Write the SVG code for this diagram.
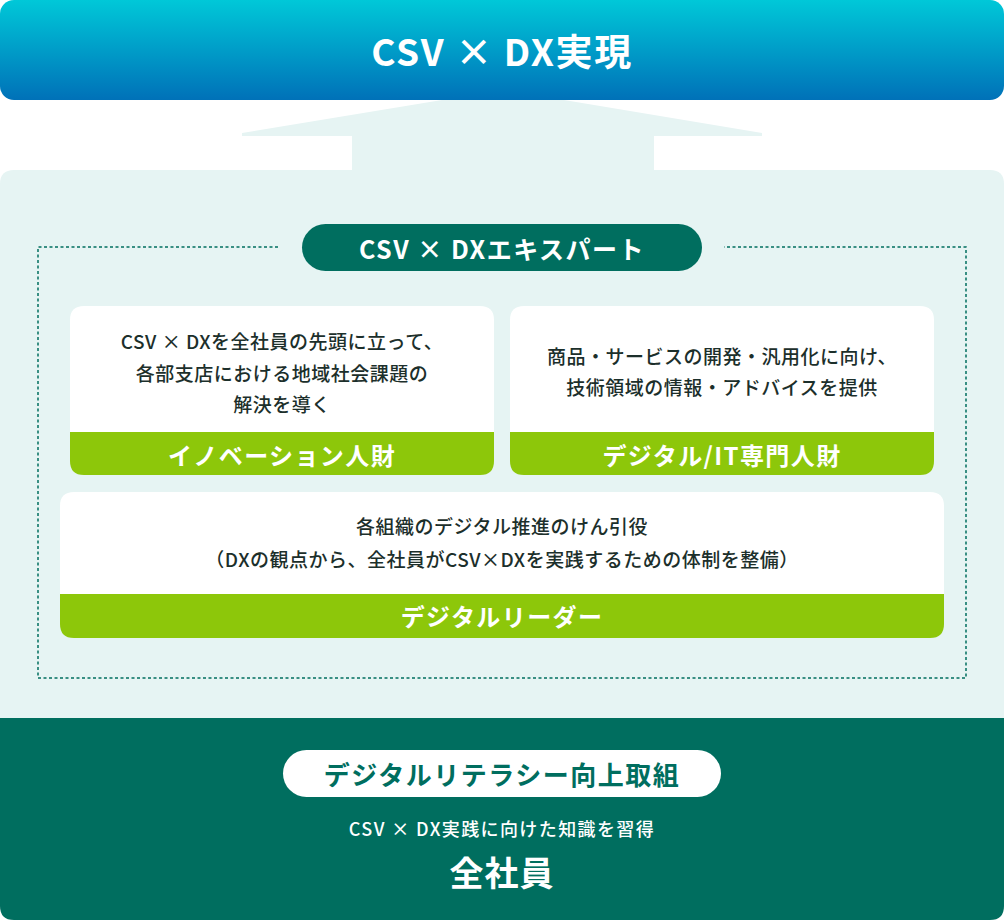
<svg xmlns="http://www.w3.org/2000/svg" width="1004" height="920" viewBox="0 0 1004 920">
<defs>
<linearGradient id="topGrad" x1="0" y1="0" x2="0" y2="1">
<stop offset="0" stop-color="#00c8d8"/>
<stop offset="1" stop-color="#0071b8"/>
</linearGradient>
<style>
text{font-family:"Noto Sans CJK JP","Noto Sans",sans-serif;text-anchor:middle;dominant-baseline:central}
.title{font-size:37px;font-weight:700;fill:#fff;letter-spacing:1.6px}
.pill{font-size:25px;font-weight:700;fill:#fff;letter-spacing:1.5px}
.body{font-size:19px;font-weight:500;fill:#1c2f2b;letter-spacing:0.5px}
.band{font-size:24px;font-weight:700;fill:#fff;letter-spacing:1.4px}
.card{fill:#fff}
.bandr{fill:#8dc70a}
</style>
</defs>

<g id="goal">
<rect x="0" y="0" width="1004" height="100" rx="14" fill="url(#topGrad)"/>
<text class="title" x="502" y="50">CSV × DX実現</text>
</g>

<g id="connectors">
<polygon points="442,100 564,100 762,133 762,136 654,136 654,171 352,171 352,136 242,136 242,133" fill="#e6f4f3"/>
</g>

<g id="panel">
<path d="M0,184 Q0,170 14,170 L990,170 Q1004,170 1004,184 L1004,720 L0,720 Z" fill="#e6f4f3"/>
<path d="M278,247 L38,247 L38,678 L966,678 L966,247 L724,247" fill="none" stroke="#006e5f" stroke-width="1.5" stroke-dasharray="3,2.5"/>
</g>

<g id="expert">
<rect x="302" y="224" width="400" height="47" rx="23.5" fill="#006e5f"/>
<text class="pill" x="502" y="247.5">CSV × DXエキスパート</text>
</g>

<g id="innovation">
<path d="M84,306 L480,306 Q494,306 494,320 L494,432 L70,432 L70,320 Q70,306 84,306 Z" class="card"/>
<path d="M70,432 L494,432 L494,461 Q494,475 480,475 L84,475 Q70,475 70,461 Z" class="bandr"/>
<text class="body" x="282" y="340">CSV × DXを全社員の先頭に立って、</text>
<text class="body" x="282" y="372">各部支店における地域社会課題の</text>
<text class="body" x="282" y="403">解決を導く</text>
<text class="band" x="282" y="454">イノベーション人財</text>
</g>

<g id="digital-it">
<path d="M524,306 L920,306 Q934,306 934,320 L934,432 L510,432 L510,320 Q510,306 524,306 Z" class="card"/>
<path d="M510,432 L934,432 L934,461 Q934,475 920,475 L524,475 Q510,475 510,461 Z" class="bandr"/>
<text class="body" x="722" y="355">商品・サービスの開発・汎用化に向け、</text>
<text class="body" x="722" y="386">技術領域の情報・アドバイスを提供</text>
<text class="band" x="722" y="454">デジタル/IT専門人財</text>
</g>

<g id="leader">
<path d="M74,492 L930,492 Q944,492 944,506 L944,594 L60,594 L60,506 Q60,492 74,492 Z" class="card"/>
<path d="M60,594 L944,594 L944,624 Q944,638 930,638 L74,638 Q60,638 60,624 Z" class="bandr"/>
<text class="body" x="502" y="525">各組織のデジタル推進のけん引役</text>
<text class="body" x="502" y="558">（DXの観点から、全社員がCSV×DXを実践するための体制を整備）</text>
<text class="band" x="502" y="615">デジタルリーダー</text>
</g>

<g id="all-staff">
<path d="M0,718 L1004,718 L1004,906 Q1004,920 990,920 L14,920 Q0,920 0,906 Z" fill="#006e5f"/>
<rect x="283" y="750" width="438" height="47" rx="23.5" fill="#fff"/>
<text x="502" y="773.5" style="font-size:26px;font-weight:700;fill:#006e5f;letter-spacing:1.5px">デジタルリテラシー向上取組</text>
<text x="502" y="828" style="font-size:18px;font-weight:500;fill:#fff;letter-spacing:1.4px">CSV × DX実践に向けた知識を習得</text>
<text x="502" y="871" style="font-size:34px;font-weight:700;fill:#fff;letter-spacing:1px">全社員</text>
</g>
</svg>
